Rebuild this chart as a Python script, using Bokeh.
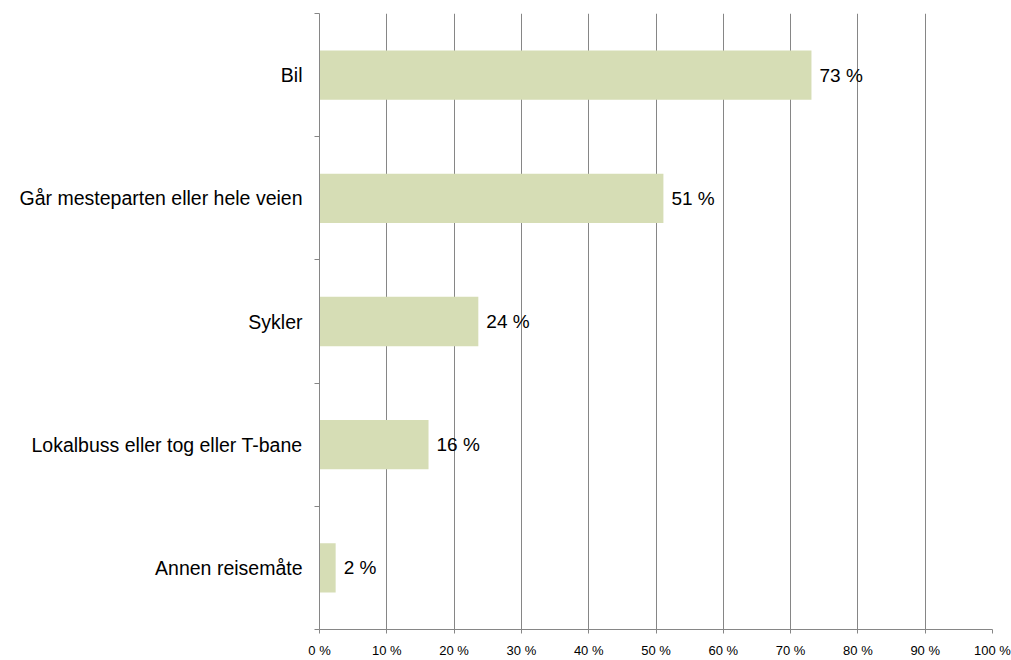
from bokeh.plotting import figure
from bokeh.models import Range1d, FixedTicker, ColumnDataSource, CustomJSTickFormatter
from bokeh.core.properties import value
from bokeh.embed import file_html
from bokeh.resources import INLINE

categories = ["Bil", "Går mesteparten eller hele veien", "Sykler", "Lokalbuss eller tog eller T-bane", "Annen reisemåte"]
values = [73.1, 51.1, 23.6, 16.2, 2.4]
value_labels = ["73 %", "51 %", "24 %", "16 %", "2 %"]
x_ticks = [0, 10, 20, 30, 40, 50, 60, 70, 80, 90, 100]

FONT = "Liberation Sans"
GRAY = "#868686"

n = len(categories)
ys = [n - i - 0.5 for i in range(n)]

p = figure(width=1011, height=660, output_backend="svg", toolbar_location=None,
           x_range=Range1d(0, 100), y_range=Range1d(0, n),
           min_border_left=319, min_border_right=19, min_border_top=13, min_border_bottom=28)
p.outline_line_color = None
p.background_fill_color = "white"
p.border_fill_color = "white"

src = ColumnDataSource(dict(y=ys, v=values, lab=value_labels))
p.hbar(y="y", left=0, right="v", height=0.4, source=src, fill_color="#D6DDB5", line_color=None)
p.text(x="v", y="y", text="lab", source=src, x_offset=8, text_align="left", text_baseline="middle",
       text_font=value(FONT), text_font_size="19px", text_color="#000000")

p.xaxis.ticker = FixedTicker(ticks=x_ticks)
p.xaxis.formatter = CustomJSTickFormatter(code="return tick.toFixed(0) + ' %';")
p.xaxis.axis_line_color = GRAY
p.xaxis.major_tick_line_color = GRAY
p.xaxis.major_tick_in = 0
p.xaxis.major_tick_out = 4
p.xaxis.minor_tick_line_color = None
p.xaxis.major_label_text_font = FONT
p.xaxis.major_label_text_font_size = "13px"
p.xaxis.major_label_text_color = "#000000"
p.xaxis.major_label_standoff = 9

p.yaxis.ticker = FixedTicker(ticks=ys, minor_ticks=list(range(n + 1)))
p.yaxis.major_label_overrides = {y: c for y, c in zip(ys, categories)}
p.yaxis.major_label_text_font = FONT
p.yaxis.major_label_text_font_size = "19.5px"
p.yaxis.major_label_text_color = "#000000"
p.yaxis.major_label_standoff = 12
p.yaxis.axis_line_color = GRAY
p.yaxis.major_tick_line_color = None
p.yaxis.major_tick_in = 0
p.yaxis.major_tick_out = 0
p.yaxis.minor_tick_line_color = GRAY
p.yaxis.minor_tick_in = 0
p.yaxis.minor_tick_out = 5

p.xgrid.ticker = FixedTicker(ticks=x_ticks[1:])
p.xgrid.grid_line_color = GRAY
p.xgrid.grid_line_width = 1
p.ygrid.grid_line_color = None

open("out.html", "w").write(file_html(p, INLINE))
